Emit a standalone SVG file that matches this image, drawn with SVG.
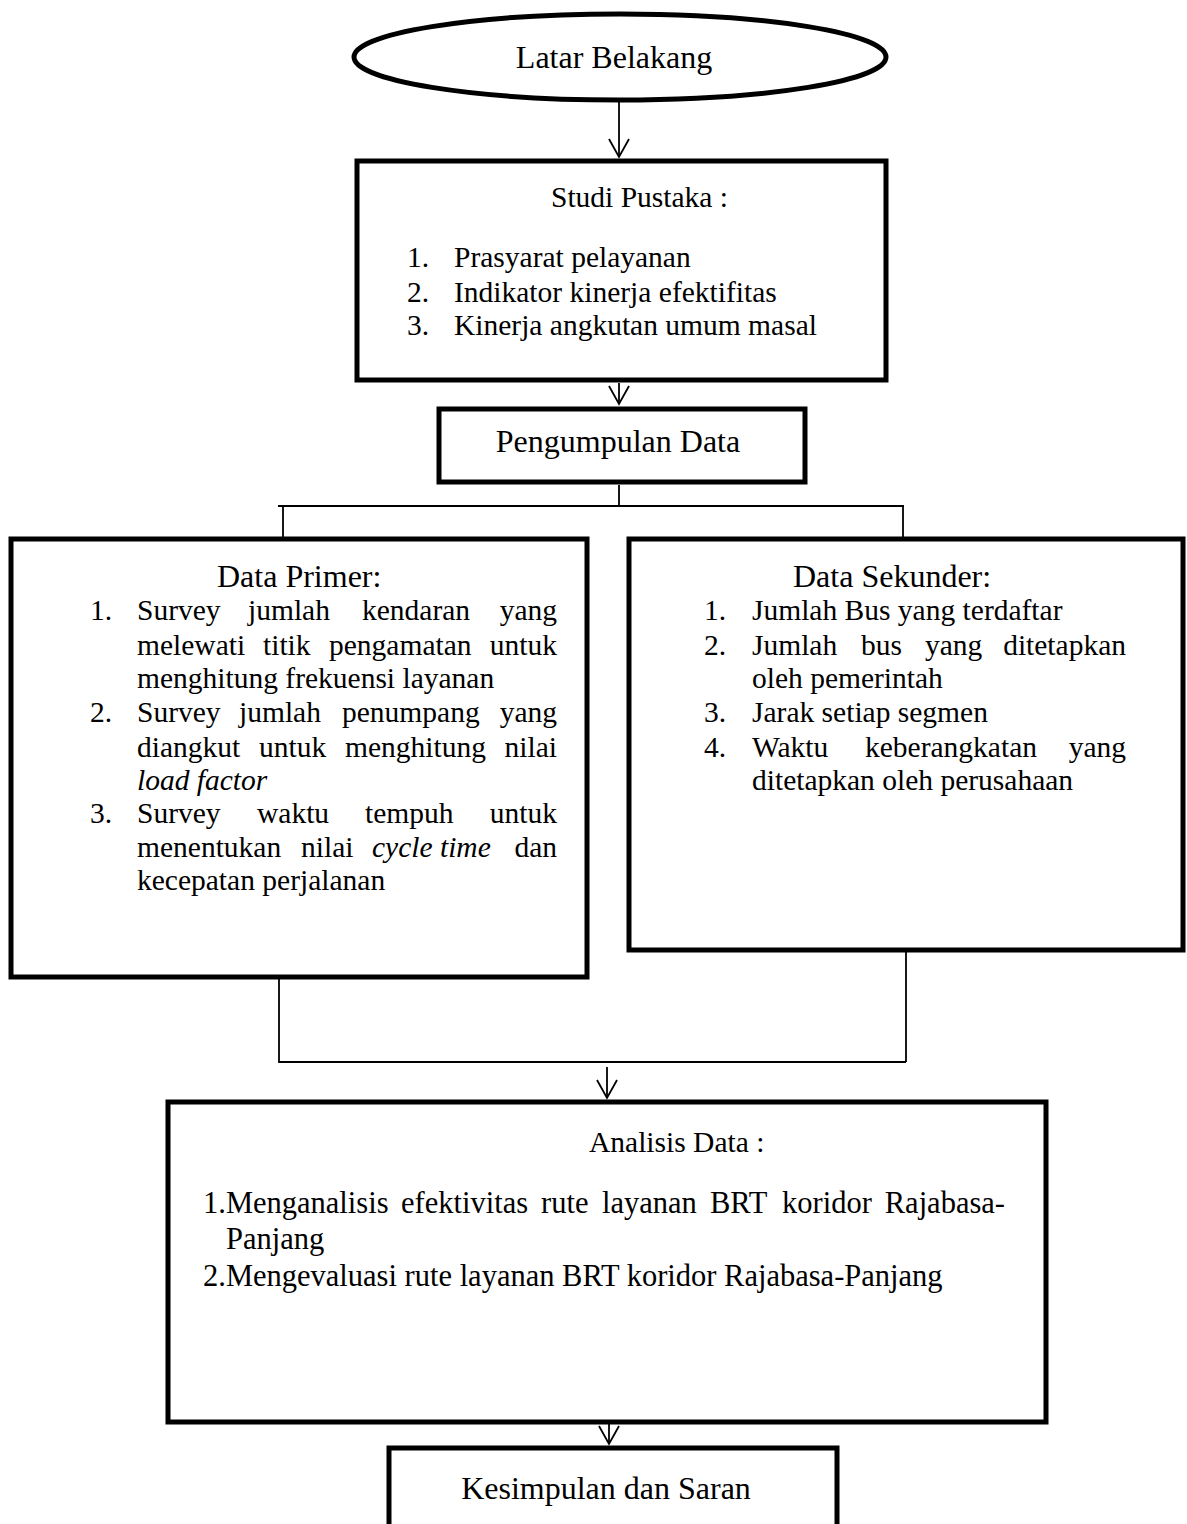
<svg xmlns="http://www.w3.org/2000/svg" width="1187" height="1524" viewBox="0 0 1187 1524">
<style>
.box{fill:#fff;stroke:#000;stroke-width:5}
.con{fill:none;stroke:#000;stroke-width:1.8}
text{font-family:"Liberation Serif","Times New Roman",serif;fill:#000}
.t32{font-size:32px}
.t29{font-size:29.5px}
.t30{font-size:30.5px}
.it{font-style:italic}
.end{text-anchor:end}
</style>
<defs>
<marker id="arr" viewBox="-1 -11 21 22" refX="18" refY="0" markerWidth="21" markerHeight="22" markerUnits="userSpaceOnUse" orient="auto">
<path d="M0,-10 L18,0 L0,10" fill="none" stroke="#000" stroke-width="1.8"/>
</marker>
</defs>
<rect width="1187" height="1524" fill="#fff"/>

<g id="connectors">
<line class="con" x1="619" y1="101" x2="619" y2="157" marker-end="url(#arr)"/>
<line class="con" x1="619" y1="383" x2="619" y2="404" marker-end="url(#arr)"/>
<path class="con" d="M619,485 V506 M278,506 H904 M283,506 V537 M903,506 V537"/>
<path class="con" d="M279,979 V1062 H906 M906,952 V1062"/>
<line class="con" x1="607" y1="1067" x2="607" y2="1098" marker-end="url(#arr)"/>
<line class="con" x1="609" y1="1424" x2="609" y2="1444" marker-end="url(#arr)"/>
</g>

<g id="latar-belakang">
<ellipse class="box" cx="620" cy="57" rx="266" ry="43"/>
<text class="t32" x="614" y="68" text-anchor="middle">Latar Belakang</text>
</g>

<g id="studi-pustaka">
<rect class="box" x="357" y="161" width="529" height="219"/>
<text class="t29" x="551" y="207">Studi Pustaka :</text>
<text class="t29" x="407" y="267">1.</text><text class="t29" x="454" y="267">Prasyarat pelayanan</text>
<text class="t29" x="407" y="302">2.</text><text class="t29" x="454" y="302">Indikator kinerja efektifitas</text>
<text class="t29" x="407" y="335">3.</text><text class="t29" x="454" y="335">Kinerja angkutan umum masal</text>
</g>

<g id="pengumpulan-data">
<rect class="box" x="439" y="409" width="366" height="73"/>
<text class="t32" x="618" y="452" text-anchor="middle">Pengumpulan Data</text>
</g>

<g id="data-primer">
<rect class="box" x="11" y="539" width="576" height="438"/>
<text class="t32" x="217" y="587">Data Primer:</text>
<text class="t29" x="90" y="620">1.</text>
<text class="t29" y="620"><tspan x="137">Survey</tspan><tspan x="248">jumlah</tspan><tspan x="362">kendaran</tspan></text>
<text class="t29 end" x="557" y="620">yang</text>
<text class="t29" y="655"><tspan x="137">melewati</tspan><tspan x="263">titik</tspan><tspan x="329">pengamatan</tspan></text>
<text class="t29 end" x="557" y="655">untuk</text>
<text class="t29" x="137" y="688">menghitung frekuensi layanan</text>
<text class="t29" x="90" y="722">2.</text>
<text class="t29" y="722"><tspan x="137">Survey</tspan><tspan x="239">jumlah</tspan><tspan x="342">penumpang</tspan></text>
<text class="t29 end" x="557" y="722">yang</text>
<text class="t29" y="757"><tspan x="137">diangkut</tspan><tspan x="259">untuk</tspan><tspan x="345">menghitung</tspan></text>
<text class="t29 end" x="557" y="757">nilai</text>
<text class="t29 it" x="137" y="790">load factor</text>
<text class="t29" x="90" y="823">3.</text>
<text class="t29" y="823"><tspan x="137">Survey</tspan><tspan x="257">waktu</tspan><tspan x="365">tempuh</tspan></text>
<text class="t29 end" x="557" y="823">untuk</text>
<text class="t29" y="857"><tspan x="137">menentukan</tspan><tspan x="301">nilai</tspan><tspan x="372" font-style="italic">cycle time</tspan></text>
<text class="t29 end" x="557" y="857">dan</text>
<text class="t29" x="137" y="890">kecepatan perjalanan</text>
</g>

<g id="data-sekunder">
<rect class="box" x="629" y="539" width="554" height="411"/>
<text class="t32" x="793" y="587">Data Sekunder:</text>
<text class="t29" x="704" y="620">1.</text><text class="t29" x="752" y="620">Jumlah Bus yang terdaftar</text>
<text class="t29" x="704" y="655">2.</text>
<text class="t29" y="655"><tspan x="752">Jumlah</tspan><tspan x="861">bus</tspan><tspan x="925">yang</tspan></text>
<text class="t29 end" x="1126" y="655">ditetapkan</text>
<text class="t29" x="752" y="688">oleh pemerintah</text>
<text class="t29" x="704" y="722">3.</text><text class="t29" x="752" y="722">Jarak setiap segmen</text>
<text class="t29" x="704" y="757">4.</text>
<text class="t29" y="757"><tspan x="752">Waktu</tspan><tspan x="865">keberangkatan</tspan></text>
<text class="t29 end" x="1126" y="757">yang</text>
<text class="t29" x="752" y="790">ditetapkan oleh perusahaan</text>
</g>

<g id="analisis-data">
<rect class="box" x="168" y="1102" width="878" height="320"/>
<text class="t29" x="589" y="1152">Analisis Data :</text>
<text class="t30" y="1213"><tspan x="203">1.Menganalisis</tspan><tspan x="401">efektivitas</tspan><tspan x="541">rute</tspan><tspan x="602">layanan</tspan><tspan x="710">BRT</tspan><tspan x="782">koridor</tspan></text>
<text class="t30 end" x="1005" y="1213">Rajabasa-</text>
<text class="t30" x="226" y="1249">Panjang</text>
<text class="t30" x="203" y="1286">2.Mengevaluasi rute layanan BRT koridor Rajabasa-Panjang</text>
</g>

<g id="kesimpulan-saran">
<rect class="box" x="389" y="1448" width="448" height="100"/>
<text class="t32" x="606" y="1499" text-anchor="middle">Kesimpulan dan Saran</text>
</g>
</svg>
